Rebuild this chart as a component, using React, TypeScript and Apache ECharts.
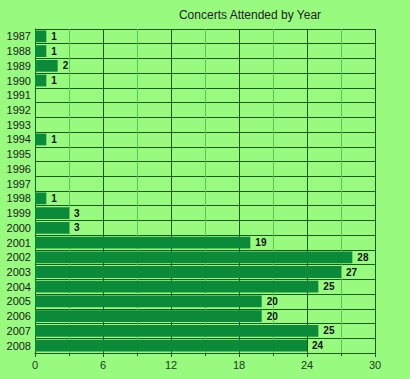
import React, { useEffect, useRef } from "react";
import * as echarts from "echarts";

const years = ["1987","1988","1989","1990","1991","1992","1993","1994","1995","1996","1997","1998","1999","2000","2001","2002","2003","2004","2005","2006","2007","2008"];
const concerts = [1,1,2,1,0,0,0,1,0,0,0,1,3,3,19,28,27,25,20,20,25,24];
const xTicks = [0, 6, 12, 18, 24, 30];

export default function App() {
  const ref = useRef<HTMLDivElement>(null);
  useEffect(() => {
    const chart = echarts.init(ref.current!, null, { renderer: "svg" });
    chart.setOption({
      animation: false,
      backgroundColor: "#98fb80",
      title: {
        text: "Concerts Attended by Year",
        left: 245,
        textAlign: "center",
        top: 4,
        textStyle: { fontFamily: "Liberation Sans, Arial", fontSize: 12, fontWeight: "normal", color: "#222" },
      },
      grid: { left: 35, right: 35, top: 29, bottom: 26, containLabel: false },
      xAxis: {
        type: "value",
        min: xTicks[0],
        max: xTicks[xTicks.length - 1],
        interval: 6,
        axisLine: { show: true, lineStyle: { color: "#1a5a1a", width: 1 } },
        axisTick: { show: true, length: 4, lineStyle: { color: "#1a5a1a" } },
        minorTick: { show: true, splitNumber: 2, length: 3, lineStyle: { color: "#1a5a1a" } },
        axisLabel: { fontFamily: "Liberation Sans, Arial", fontSize: 11, color: "#1a3a1a", margin: 6 },
        splitLine: { show: true, lineStyle: { color: "#1a5a1a", width: 1 } },
        minorSplitLine: { show: true, lineStyle: { color: "#5cc455", width: 1 } },
      },
      yAxis: {
        type: "category",
        data: years,
        inverse: true,
        axisLine: { show: true, lineStyle: { color: "#1a5a1a" } },
        axisTick: { show: false },
        axisLabel: { fontFamily: "Liberation Sans, Arial", fontSize: 11, color: "#1a1a1a", margin: 4 },
        splitLine: { show: true, lineStyle: { color: "#1a5a1a", width: 1 } },
      },
      series: [
        {
          type: "bar",
          data: concerts,
          barCategoryGap: "20%",
          itemStyle: { color: "#0b8a3a" },
          label: {
            show: true,
            position: "right",
            distance: 5,
            fontFamily: "Liberation Sans, Arial",
            fontSize: 10,
            fontWeight: "bold",
            color: "#111",
            formatter: (p: any) => (p.value > 0 ? String(p.value) : ""),
          },
        },
      ],
    });
    return () => chart.dispose();
  }, []);
  return <div ref={ref} style={{ width: 410, height: 379, position: "absolute", left: 0, top: 0 }} />;
}
